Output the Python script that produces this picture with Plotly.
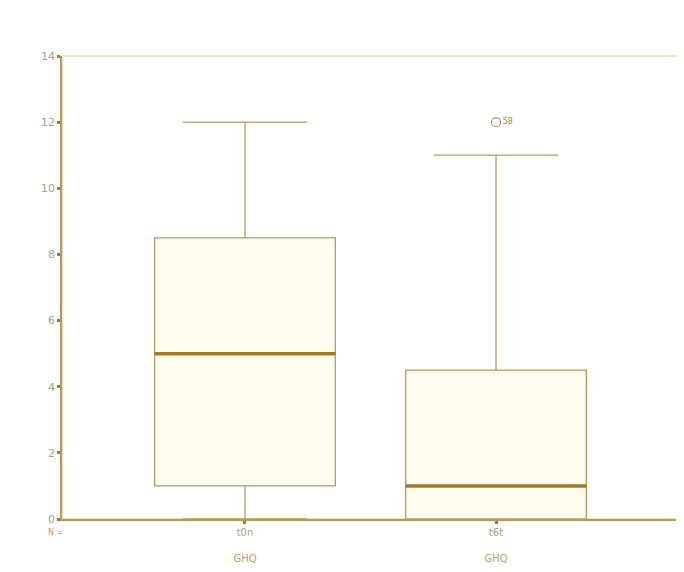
import plotly.graph_objects as go

categories = ["t0n", "t6t"]
group_label = "GHQ"
lower_whisker = [0, 0]
q1 = [1, 0]
median = [5, 1]
q3 = [8.5, 4.5]
upper_whisker = [12, 11]
outlier_group = [1]
outlier_value = [12]
outlier_label = ["58"]
y_ticks = [0, 2, 4, 6, 8, 10, 12, 14]

line_col = "#B8995C"
median_col = "#A5781E"
fill_col = "#FFFDF0"
tick_font_col = "#A8A090"
box_w = 0.72

fig = go.Figure()
xs = list(range(len(categories)))
fig.add_trace(go.Box(
    x=xs, q1=q1, median=median, q3=q3,
    lowerfence=lower_whisker, upperfence=upper_whisker,
    width=box_w, whiskerwidth=0.69,
    fillcolor=fill_col, line=dict(color=line_col, width=1.3),
    boxpoints=False, showlegend=False, hoverinfo="skip",
))
for i, m in zip(xs, median):
    fig.add_trace(go.Scatter(
        x=[i - box_w / 2, i + box_w / 2], y=[m, m], mode="lines",
        line=dict(color=median_col, width=3.5), showlegend=False, hoverinfo="skip",
    ))
fig.add_trace(go.Scatter(
    x=outlier_group, y=outlier_value, mode="markers+text",
    marker=dict(symbol="circle-open", size=9, color="#A89878", line=dict(width=1.2)),
    text=outlier_label, textposition="middle right",
    textfont=dict(size=8, color="#B8891C", family="DejaVu Sans"),
    showlegend=False, hoverinfo="skip",
))

fig.update_layout(
    width=684, height=572,
    margin=dict(l=54, r=12, t=48, b=61),
    paper_bgcolor="white", plot_bgcolor="white",
    font=dict(family="DejaVu Sans", size=11, color=tick_font_col),
    xaxis=dict(
        range=[-0.729, 1.733], tickvals=xs, automargin=False,
        ticktext=[f"{c}<br><br>{group_label}" for c in categories],
        showgrid=False, zeroline=False, showline=True, linecolor=line_col, linewidth=1.5,
        ticks="outside", ticklen=3, tickcolor=median_col, tickwidth=3,
        tickfont=dict(size=10, color="#B8A070"),
    ),
    yaxis=dict(
        range=[0, 14], tickvals=y_ticks, automargin=False,
        showgrid=False, zeroline=False, showline=True, linecolor=line_col, linewidth=1.5,
        ticks="outside", ticklen=3, tickcolor=median_col, tickwidth=3,
        tickfont=dict(size=11, color=tick_font_col),
    ),
    shapes=[dict(type="rect", xref="paper", yref="paper", x0=0, x1=1, y0=0, y1=1,
                 line=dict(color="#EFE3BE", width=2), layer="below")],
    annotations=[dict(text="N =", xref="paper", yref="paper", x=-0.01, y=-0.015,
                      xanchor="center", yanchor="top", showarrow=False,
                      font=dict(size=8, color="#B8A070"))],
)
fig.write_html("out.html")
